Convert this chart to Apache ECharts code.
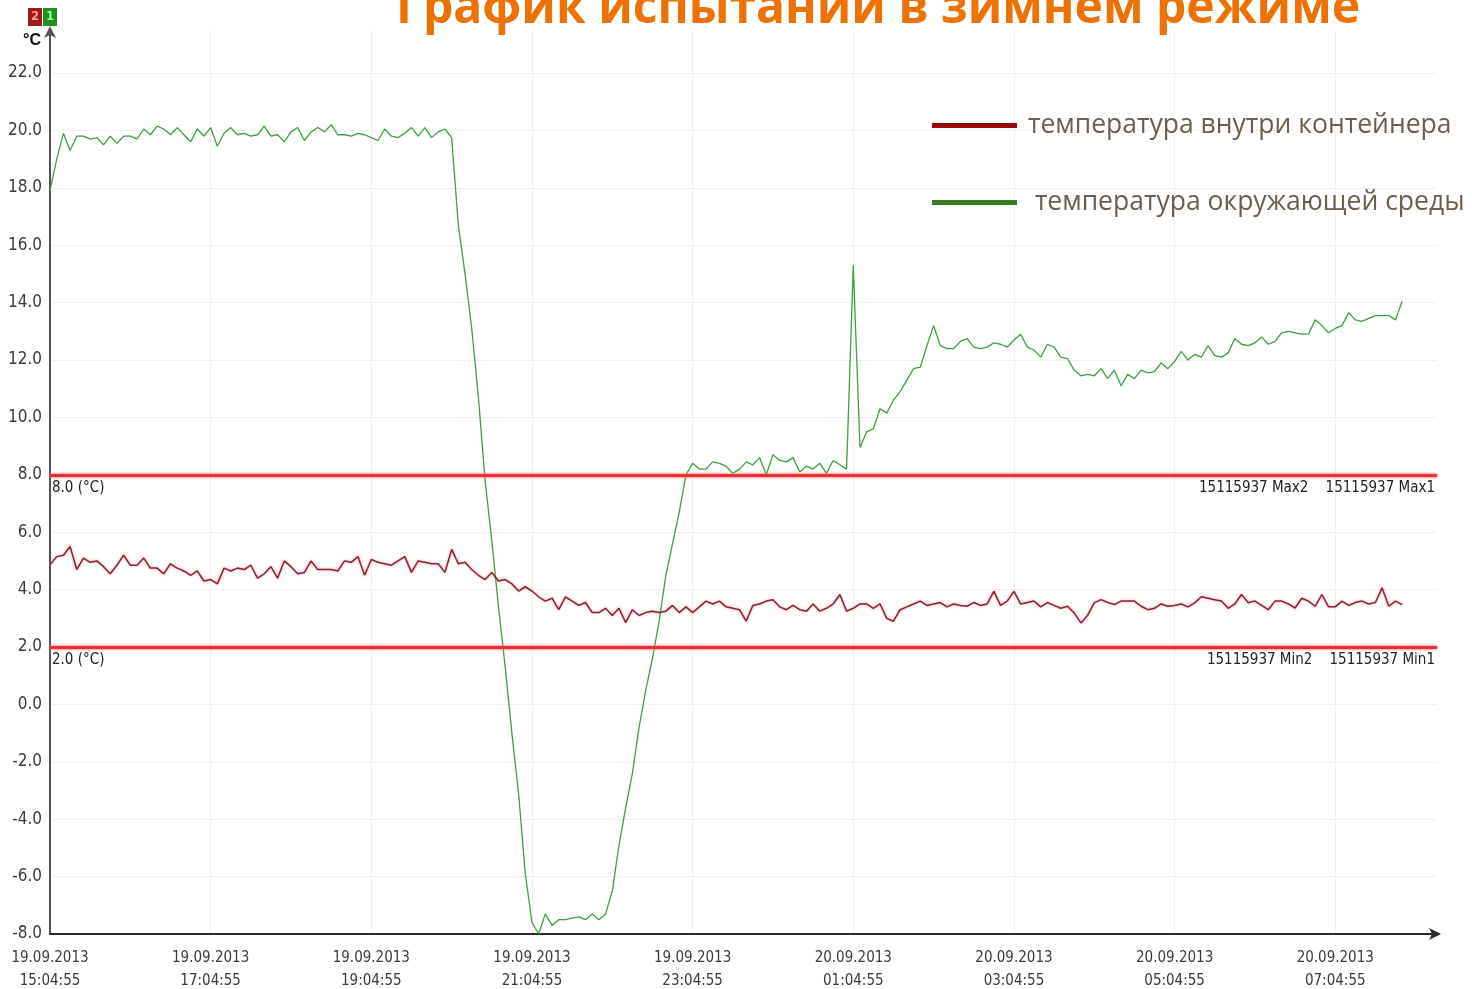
<!DOCTYPE html>
<html>
<head>
<meta charset="utf-8">
<script src="https://cdn.jsdelivr.net/npm/echarts@6/dist/echarts.min.js"></script>
<style>
  html, body { margin: 0; padding: 0; background: #ffffff; }
  #chart { width: 1472px; height: 989px; }
</style>
</head>
<body>
<div id="chart"></div>
<script>
// ---------------- DATA ----------------
const titleText = 'График испытаний в зимнем режиме';
const seriesNames = ['температура внутри контейнера', ' температура окружающей среды'];
const startTime = '19.09.2013 15:04:55';
const sampleStepMinutes = 5;

// ambient temperature (green), one reading every 5 minutes from 19.09.2013 15:04:55
const ambientTemp = [
  17.9, 19.0, 19.9, 19.3, 19.8, 19.8, 19.7, 19.75, 19.5, 19.8,
  19.55, 19.8, 19.8, 19.7, 20.05, 19.85, 20.15, 20.05, 19.85, 20.1,
  19.85, 19.6, 20.05, 19.8, 20.1, 19.45, 19.9, 20.1, 19.85, 19.9,
  19.8, 19.85, 20.15, 19.8, 19.85, 19.6, 19.95, 20.1, 19.65, 19.95,
  20.1, 19.95, 20.2, 19.85, 19.85, 19.8, 19.9, 19.85, 19.75, 19.65,
  20.05, 19.8, 19.75, 19.9, 20.1, 19.8, 20.1, 19.75, 19.95, 20.05,
  19.75, 16.7, 15.0, 13.1, 10.7, 7.8, 5.7, 3.4, 1.3, -1.0,
  -3.1, -5.9, -7.6, -8.0, -7.3, -7.7, -7.5, -7.5, -7.45, -7.4,
  -7.5, -7.3, -7.5, -7.3, -6.5, -4.9, -3.6, -2.4, -0.8, 0.5,
  1.6, 2.9, 4.5, 5.6, 6.7, 8.0, 8.4, 8.2, 8.2, 8.45,
  8.4, 8.3, 8.05, 8.2, 8.45, 8.35, 8.6, 8.0, 8.7, 8.5,
  8.45, 8.6, 8.1, 8.3, 8.2, 8.4, 8.05, 8.5, 8.35, 8.2,
  15.3, 8.95, 9.5, 9.6, 10.3, 10.15, 10.6, 10.9, 11.3, 11.7,
  11.75, 12.5, 13.2, 12.5, 12.4, 12.4, 12.65, 12.75, 12.45, 12.4,
  12.45, 12.6, 12.55, 12.45, 12.7, 12.9, 12.45, 12.35, 12.1, 12.55,
  12.45, 12.1, 12.05, 11.65, 11.45, 11.5, 11.45, 11.7, 11.35, 11.65,
  11.1, 11.5, 11.35, 11.65, 11.55, 11.6, 11.9, 11.7, 11.95, 12.3,
  12.0, 12.2, 12.1, 12.5, 12.15, 12.1, 12.25, 12.75, 12.55, 12.5,
  12.6, 12.8, 12.55, 12.65, 12.95, 13.0, 12.95, 12.9, 12.9, 13.4,
  13.2, 12.95, 13.1, 13.2, 13.65, 13.4, 13.35, 13.45, 13.55, 13.55,
  13.55, 13.4, 14.05
];

// temperature inside the container (dark red), same timestamps
const insideTemp = [
  4.87, 5.15, 5.2, 5.5, 4.7, 5.1, 4.95, 5.0, 4.8, 4.55,
  4.85, 5.2, 4.85, 4.85, 5.1, 4.75, 4.75, 4.55, 4.9, 4.75,
  4.65, 4.5, 4.65, 4.3, 4.35, 4.2, 4.75, 4.65, 4.75, 4.7,
  4.85, 4.4, 4.55, 4.8, 4.4, 5.0, 4.8, 4.55, 4.6, 5.0,
  4.7, 4.7, 4.7, 4.65, 5.0, 4.95, 5.15, 4.5, 5.05, 4.95,
  4.9, 4.85, 5.0, 5.15, 4.6, 5.0, 4.95, 4.9, 4.9, 4.6,
  5.4, 4.9, 4.95, 4.7, 4.5, 4.35, 4.6, 4.3, 4.35, 4.2,
  3.95, 4.1, 3.95, 3.75, 3.6, 3.7, 3.3, 3.75, 3.6, 3.45,
  3.55, 3.2, 3.2, 3.35, 3.1, 3.35, 2.85, 3.3, 3.1, 3.2,
  3.25, 3.2, 3.25, 3.45, 3.2, 3.4, 3.2, 3.4, 3.6, 3.5,
  3.6, 3.4, 3.35, 3.3, 2.9, 3.45, 3.5, 3.6, 3.65, 3.4,
  3.3, 3.45, 3.3, 3.25, 3.5, 3.25, 3.35, 3.5, 3.83, 3.25,
  3.35, 3.5, 3.5, 3.35, 3.5, 3.0, 2.9, 3.3, 3.4, 3.5,
  3.6, 3.45, 3.5, 3.55, 3.4, 3.5, 3.45, 3.42, 3.55, 3.45,
  3.5, 3.94, 3.45, 3.6, 3.94, 3.5, 3.55, 3.6, 3.4, 3.55,
  3.45, 3.35, 3.42, 3.19, 2.84, 3.1, 3.54, 3.65, 3.55, 3.48,
  3.6, 3.6, 3.6, 3.42, 3.3, 3.35, 3.5, 3.42, 3.45, 3.5,
  3.4, 3.54, 3.75, 3.7, 3.65, 3.6, 3.35, 3.5, 3.83, 3.54,
  3.6, 3.45, 3.3, 3.6, 3.6, 3.5, 3.36, 3.7, 3.6, 3.42,
  3.83, 3.4, 3.4, 3.6, 3.45, 3.55, 3.6, 3.5, 3.55, 4.06,
  3.42, 3.6, 3.48
];

const limitMax = 8.0;
const limitMin = 2.0;
const limitMaxLabel = '8.0 (°C)';
const limitMinLabel = '2.0 (°C)';
const limitMaxNames = '15115937 Max2    15115937 Max1';
const limitMinNames = '15115937 Min2    15115937 Min1';
const unitLabel = '°C';
const channelBadges = ['2', '1'];

// ---------------- HELPERS ----------------
const startMs = Date.UTC(2013, 8, 19, 15, 4, 55);
function pad(n) { return (n < 10 ? '0' : '') + n; }
function fmtTime(minutes) {
  const d = new Date(startMs + minutes * 60000);
  return pad(d.getUTCDate()) + '.' + pad(d.getUTCMonth() + 1) + '.' + d.getUTCFullYear() +
    '\n' + pad(d.getUTCHours()) + ':' + pad(d.getUTCMinutes()) + ':' + pad(d.getUTCSeconds());
}
function toPairs(values) {
  return values.map((v, i) => [i * sampleStepMinutes, v]);
}

const narrow = "'Liberation Sans Narrow', 'DejaVu Sans Condensed', 'Liberation Sans', sans-serif";

const chart = echarts.init(document.getElementById('chart'), null, { renderer: 'canvas' });

const option = {
  backgroundColor: '#ffffff',
  animation: false,
  grid: { left: 50, right: 35, top: 30, bottom: 55, containLabel: false, outerBoundsMode: 'none' },
  legend: {
    orient: 'vertical',
    left: 932,
    top: 112,
    padding: 0,
    itemGap: 50,
    itemWidth: 85,
    itemHeight: 5,
    icon: 'rect',
    data: [seriesNames[0], seriesNames[1]],
    textStyle: { fontFamily: "'Open Sans', sans-serif", fontSize: 26.5, color: '#6b5e4c', padding: [0, 0, 0, 6] }
  },
  xAxis: {
    type: 'value',
    min: 0,
    max: 1036,
    interval: 120,
    axisLine: { show: true, onZero: false, lineStyle: { color: '#2a2a2a', width: 2 }, symbol: ['none', 'arrow'], symbolSize: [9, 12], symbolOffset: [0, 4] },
    axisTick: { show: false },
    splitLine: { show: true, showMinLine: false, showMaxLine: false, lineStyle: { color: '#f0f0f0', width: 1 } },
    axisLabel: {
      showMaxLabel: false,
      margin: 13,
      formatter: fmtTime,
      fontFamily: narrow,
      fontSize: 15,
      lineHeight: 23,
      color: '#3a3a3a'
    }
  },
  yAxis: {
    type: 'value',
    min: -8,
    max: 23.5,
    interval: 2,
    axisLine: { show: true, onZero: false, lineStyle: { color: '#555555', width: 2 }, symbol: ['none', 'arrow'], symbolSize: [9, 12], symbolOffset: [0, 4] },
    axisTick: { show: false },
    splitLine: { show: true, showMaxLine: false, lineStyle: { color: '#f0f0f0', width: 1 } },
    axisLabel: {
      showMaxLabel: false,
      margin: 8,
      formatter: v => v.toFixed(1),
      fontFamily: narrow,
      fontSize: 17,
      color: '#3a3a3a'
    }
  },
  series: [
    {
      name: seriesNames[1],
      type: 'line',
      data: toPairs(ambientTemp),
      showSymbol: false,
      symbol: 'none',
      color: '#3a7d23',
      lineStyle: { color: '#3f9f3f', width: 1.3 },
      z: 3
    },
    {
      name: seriesNames[0],
      type: 'line',
      data: toPairs(insideTemp),
      showSymbol: false,
      symbol: 'none',
      color: '#9a0a0a',
      lineStyle: { color: '#8a2330', width: 1.5, shadowColor: 'rgba(230,110,120,0.7)', shadowBlur: 3 },
      z: 4,
      markLine: {
        silent: true,
        symbol: ['none', 'none'],
        lineStyle: { color: '#ee2e34', width: 3, type: 'solid', shadowColor: 'rgba(255,120,120,0.8)', shadowBlur: 3 },
        label: { fontFamily: narrow, fontSize: 15, color: '#222222', distance: [2, 6] },
        data: [
          { yAxis: limitMax, label: { position: 'insideStartBottom', formatter: limitMaxLabel } },
          { yAxis: limitMax, label: { position: 'insideEndBottom', formatter: limitMaxNames } },
          { yAxis: limitMin, label: { position: 'insideStartBottom', formatter: limitMinLabel } },
          { yAxis: limitMin, label: { position: 'insideEndBottom', formatter: limitMinNames } }
        ]
      }
    }
  ],
  graphic: [
    {
      type: 'text',
      left: 396,
      top: -15,
      style: {
        text: titleText,
        fontFamily: "'Open Sans', 'Noto Sans', sans-serif",
        fontWeight: 'bold',
        fontSize: 48,
        fill: '#ee7203'
      }
    },
    {
      type: 'group',
      left: 28,
      top: 8,
      children: [
        { type: 'rect', shape: { x: 0, y: 0, width: 14, height: 18 }, style: { fill: '#a01818' } },
        { type: 'text', x: 7, y: 9, style: { text: channelBadges[0], fill: '#ff9c9c', fontSize: 13, fontWeight: 'bold', align: 'center', verticalAlign: 'middle', fontFamily: narrow } },
        { type: 'rect', shape: { x: 15, y: 0, width: 14, height: 18 }, style: { fill: '#1f8f1f' } },
        { type: 'text', x: 22, y: 9, style: { text: channelBadges[1], fill: '#9cff9c', fontSize: 13, fontWeight: 'bold', align: 'center', verticalAlign: 'middle', fontFamily: narrow } }
      ]
    },
    {
      type: 'text',
      left: 23,
      top: 33,
      style: { text: unitLabel, fill: '#111111', fontSize: 16, fontWeight: 'bold', fontFamily: "'Liberation Sans', sans-serif" }
    }
  ]
};

chart.setOption(option);
</script>
</body>
</html>
